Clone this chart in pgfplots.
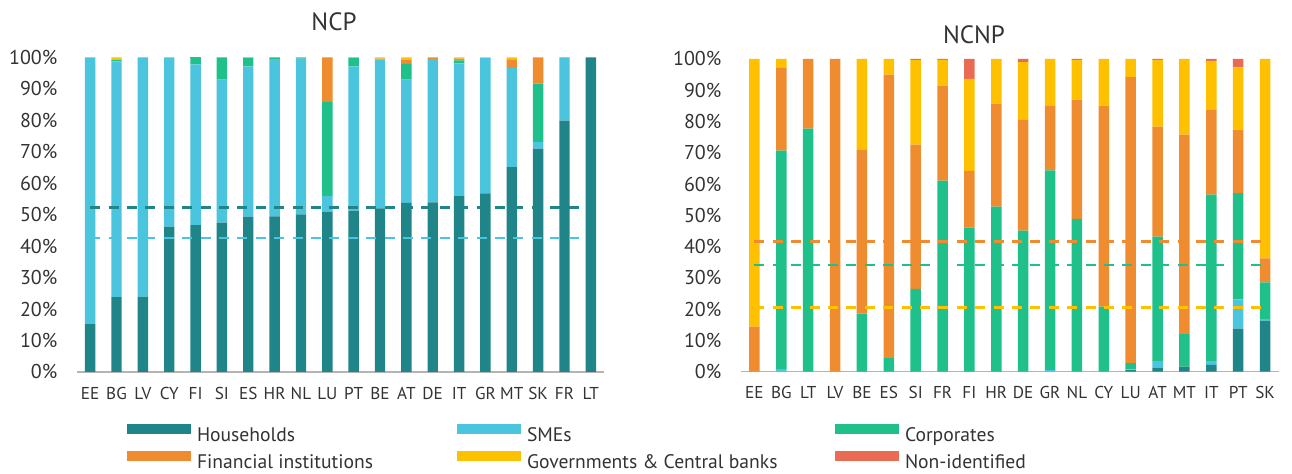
\documentclass[border=0pt]{standalone}
\usepackage{fontspec}
\setmainfont{PT Sans}
\usepackage{pgfplots}
\pgfplotsset{compat=1.18}
\usepackage{pgfplotstable}
\definecolor{chh}{HTML}{1F8589}
\definecolor{chs}{HTML}{4BC4DE}
\definecolor{chc}{HTML}{1FC08A}
\definecolor{chf}{HTML}{EF8C30}
\definecolor{chg}{HTML}{FFC000}
\definecolor{chn}{HTML}{E96B53}
\definecolor{txt}{HTML}{333333}
\definecolor{axg}{HTML}{B4B4B4}

\pgfplotstableread{
x H S C F G N
0 15.2 84.8 0 0 0 0
1 23.8 75.0 0.4 0 0.8 0
2 24.0 75.8 0 0.2 0 0
3 46.2 53.8 0 0 0 0
4 46.7 51.1 2.0 0 0 0.2
5 47.5 45.5 7.0 0 0 0
6 49.4 47.8 2.6 0.2 0 0
7 49.5 50.0 0.5 0 0 0
8 50.1 49.5 0.3 0.1 0 0
9 51.0 5.0 29.9 14.1 0 0
10 51.3 45.9 2.6 0.2 0 0
11 52.0 47.4 0 0.2 0.4 0
12 53.8 39.2 5.0 1.2 0.8 0
13 53.9 45.6 0 0.5 0 0
14 56.1 42.0 1.0 0.5 0.4 0
15 56.8 43.0 0 0.1 0.1 0
16 65.1 31.5 0 2.8 0.6 0
17 71.0 2.1 18.6 8.3 0 0
18 79.9 20.0 0 0.1 0 0
19 100 0 0 0 0 0
}\ncp

\pgfplotstableread{
x H S C F G N
0 0 0 0 14.4 85.6 0
1 0 0.8 69.9 26.6 2.7 0
2 0 0 77.7 22.3 0 0
3 0 0 0 100 0 0
4 0 0 18.6 52.3 29.1 0
5 0 0 4.3 90.7 5.0 0
6 0 0 26.5 46.1 27.0 0.4
7 0 0 61.1 30.2 8.4 0.3
8 0 0 46.1 18.1 29.4 6.4
9 0 0 52.8 32.9 14.3 0
10 0 0 45.1 35.6 18.3 1.0
11 0 0.5 63.9 20.6 15.0 0
12 0 0 48.9 38.1 12.7 0.3
13 0 0 20.8 64.3 14.9 0
14 0.5 0.2 2.0 91.5 5.8 0
15 1.3 2.1 39.8 35.2 21.3 0.3
16 1.6 0 10.4 63.8 24.2 0
17 2.2 1.2 53.2 27.1 15.7 0.6
18 13.8 9.3 34.0 20.3 19.9 2.7
19 16.3 0.5 11.8 7.6 63.8 0
}\ncnp

\pgfplotsset{
  mybase/.style={
    scale only axis, xmin=-0.5, xmax=19.5, ymin=0, ymax=100,
    clip=false,
  },
  mybars/.style={
    mybase,
    ybar stacked,
    axis lines*=left,
    x axis line style={draw=axg, line width=0.8pt, -},
    y axis line style={draw=none},
    major tick length=0pt,
    ytick={0,10,...,100},
    yticklabel={\pgfmathprintnumber{\tick}\%},
    xtick={0,...,19},
    tick label style={text=txt},
    yticklabel style={font=\fontsize{10}{12}\selectfont, xshift=-6.3pt},
    xticklabel style={font=\fontsize{8.6}{10}\selectfont, yshift=-4pt},
    /pgf/number format/assume math mode=true,
  },
  mylines/.style={mybase, axis lines=none},
}

\begin{document}
\begin{tikzpicture}
\useasboundingbox (0,0) rectangle (646pt,237pt);

% ---------- NCP ----------
\begin{axis}[mybars,
  at={(38.5pt,51pt)}, anchor=south west,
  width=263.5pt, height=157.25pt, bar width=5.2pt,
  xticklabels={EE,BG,LV,CY,FI,SI,ES,HR,NL,LU,PT,BE,AT,DE,IT,GR,MT,SK,FR,LT},
  legend columns=3,
  legend image code/.code={\fill[#1] (0pt,0.8pt) rectangle (32pt,5.8pt);},
  legend style={draw=none, fill=none, inner sep=0pt, outer sep=0pt,
    at={(0.0949,-0.2416)}, anchor=west,
    font=\fontsize{9.8}{11}\selectfont, text=txt,
    nodes={inner sep=0pt},
    row sep=3.5pt,
    /tikz/every odd column/.append style={column sep=3pt},
    /tikz/every even column/.append style={column sep=0pt}},
  legend cell align=left,
]
\addplot[fill=chh, draw=none] table[x=x, y=H]{\ncp};
\addlegendentry{\makebox[130pt][l]{Households}}
\addplot[fill=chs, draw=none] table[x=x, y=S]{\ncp};
\addlegendentry{\makebox[154pt][l]{SMEs}}
\addplot[fill=chc, draw=none] table[x=x, y=C]{\ncp};
\addlegendentry{Corporates}
\addplot[fill=chf, draw=none] table[x=x, y=F]{\ncp};
\addlegendentry{\makebox[130pt][l]{Financial institutions}}
\addplot[fill=chg, draw=none] table[x=x, y=G]{\ncp};
\addlegendentry{\makebox[154pt][l]{Governments \& Central banks}}
\addplot[fill=chn, draw=none] table[x=x, y=N]{\ncp};
\addlegendentry{Non-identified}
\end{axis}
\begin{axis}[mylines, at={(38.5pt,51pt)}, anchor=south west,
  width=263.5pt, height=157.25pt]
\addplot[chh, line width=1.3pt, dash pattern=on 5pt off 4.2pt] coordinates {(0,52.3) (18.8,52.3)};
\addplot[chs, line width=1.3pt, dash pattern=on 5pt off 4.2pt] coordinates {(0,42.6) (18.8,42.6)};
\end{axis}

% ---------- NCNP ----------
\begin{axis}[mybars,
  at={(370.5pt,51.15pt)}, anchor=south west,
  width=268.75pt, height=156.35pt, bar width=5.3pt,
  xticklabels={EE,BG,LT,LV,BE,ES,SI,FR,FI,HR,DE,GR,NL,CY,LU,AT,MT,IT,PT,SK},
]
\addplot[fill=chh, draw=none] table[x=x, y=H]{\ncnp};
\addplot[fill=chs, draw=none] table[x=x, y=S]{\ncnp};
\addplot[fill=chc, draw=none] table[x=x, y=C]{\ncnp};
\addplot[fill=chf, draw=none] table[x=x, y=F]{\ncnp};
\addplot[fill=chg, draw=none] table[x=x, y=G]{\ncnp};
\addplot[fill=chn, draw=none] table[x=x, y=N]{\ncnp};
\end{axis}
\begin{axis}[mylines, at={(370.5pt,51.15pt)}, anchor=south west,
  width=268.75pt, height=156.35pt]
\addplot[chf, line width=1.3pt, dash pattern=on 5pt off 4.2pt] coordinates {(0,41.7) (19,41.7)};
\addplot[chc, line width=1.3pt, dash pattern=on 5pt off 4.2pt] coordinates {(0,34.1) (19,34.1)};
\addplot[chg, line width=1.3pt, dash pattern=on 5pt off 4.2pt] coordinates {(0,20.5) (19,20.5)};
\end{axis}

\node[text=txt, font=\fontsize{12.5}{14}\selectfont] at (167pt,226pt) {NCP};
\node[text=txt, font=\fontsize{12.5}{14}\selectfont] at (487pt,219.5pt) {NCNP};
\end{tikzpicture}
\end{document}
